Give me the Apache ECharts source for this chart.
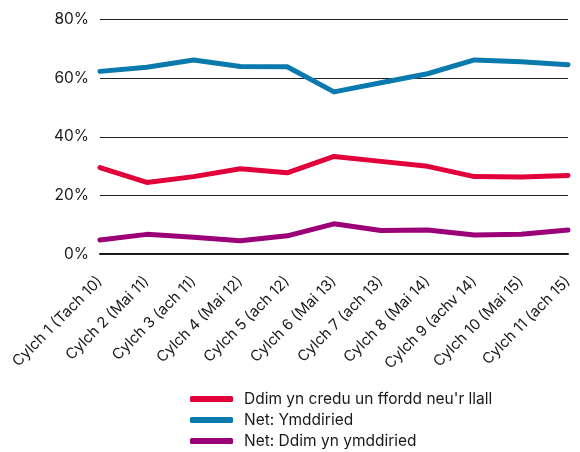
<!DOCTYPE html>
<html>
<head>
<meta charset="utf-8">
<script src="https://cdn.jsdelivr.net/npm/echarts@6/dist/echarts.min.js"></script>
<style>
  html, body { margin: 0; padding: 0; background: #fff; }
  #chart { width: 580px; height: 452px; }
</style>
</head>
<body>
<div id="chart"></div>
<script>
// data
var categories = ['Cylch 1 (Tach 10)', 'Cylch 2 (Mai 11)', 'Cylch 3 (ach 11)', 'Cylch 4 (Mai 12)',
  'Cylch 5 (ach 12)', 'Cylch 6 (Mai 13)', 'Cylch 7 (ach 13)', 'Cylch 8 (Mai 14)',
  'Cylch 9 (achv 14)', 'Cylch 10 (Mai 15)', 'Cylch 11 (ach 15)'];
var seriesNames = ["Ddim yn credu un ffordd neu'r llall", 'Net: Ymddiried', 'Net: Ddim yn ymddiried'];
var neither = [29.5, 24.4, 26.4, 29.1, 27.7, 33.3, 31.6, 29.9, 26.4, 26.3, 26.8];
var trust = [62.3, 63.7, 66.2, 64.0, 63.9, 55.3, 58.4, 61.5, 66.2, 65.6, 64.6];
var distrust = [4.8, 6.7, 5.7, 4.5, 6.2, 10.3, 8.0, 8.2, 6.5, 6.7, 8.2];
var colors = ['#e2003b', '#0a7aae', '#9b0079'];

var myChart = echarts.init(document.getElementById('chart'));

function line(name, data, color) {
  return {
    name: name,
    type: 'line',
    data: data,
    symbol: 'none',
    lineStyle: { width: 5, color: color, cap: 'round', join: 'round' },
    itemStyle: { color: color }
  };
}

var option = {
  animation: false,
  textStyle: { fontFamily: 'Inter, "Noto Sans", sans-serif', color: '#1a1a1a' },
  grid: { left: 100, right: 12, top: 19.5, bottom: 198, containLabel: false },
  xAxis: {
    type: 'category',
    data: categories,
    boundaryGap: false,
    axisLine: { show: true, lineStyle: { color: '#1a1a1a', width: 2 } },
    axisTick: { show: false },
    axisLabel: { rotate: 45, fontSize: 15, color: '#1a1a1a', margin: 25, interval: 0 }
  },
  yAxis: {
    type: 'value',
    min: 0,
    max: 80,
    interval: 20,
    axisLine: { show: false },
    axisTick: { show: false },
    axisLabel: { formatter: '{value}%', fontSize: 15.5, color: '#1a1a1a', margin: 11 },
    splitLine: { lineStyle: { color: '#222', width: 1.2 } }
  },
  legend: {
    orient: 'vertical',
    left: 190,
    top: 391,
    height: 70,
    padding: 0,
    itemWidth: 43,
    itemHeight: 6,
    itemGap: 5,
    icon: 'roundRect',
    textStyle: { fontSize: 15.5, color: '#1a1a1a', padding: [0, 0, 0, 6] },
    data: seriesNames
  },
  series: [
    line(seriesNames[0], neither, colors[0]),
    line(seriesNames[1], trust, colors[1]),
    line(seriesNames[2], distrust, colors[2])
  ]
};

myChart.setOption(option);
</script>
</body>
</html>
